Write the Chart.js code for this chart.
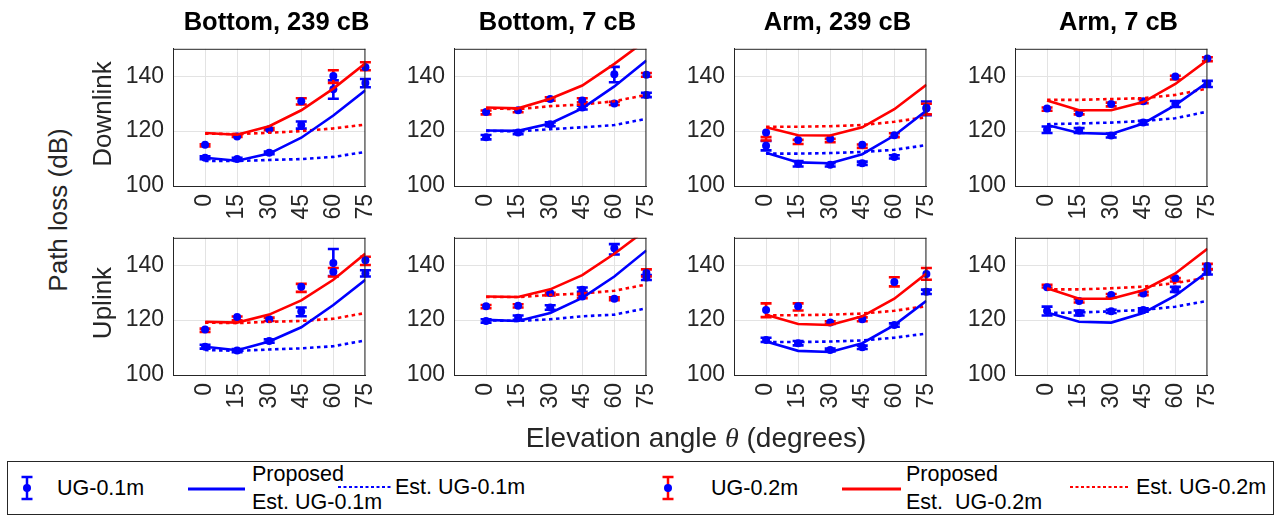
<!DOCTYPE html>
<html><head><meta charset="utf-8">
<script src="https://cdn.jsdelivr.net/npm/chart.js@4.4.0/dist/chart.umd.min.js"></script>
<style>
html,body{margin:0;padding:0;background:#fff;}
body{width:1282px;height:516px;position:relative;overflow:hidden;font-family:"Liberation Sans",Arial,Helvetica,sans-serif;color:#262626;}
canvas{position:absolute;}
.title{position:absolute;font-weight:bold;font-size:25.5px;line-height:26px;color:#000;text-align:center;white-space:nowrap;}
.rot{position:absolute;transform:rotate(-90deg);transform-origin:50% 50%;white-space:nowrap;text-align:center;}
.lg{position:absolute;font-size:21.5px;line-height:22px;white-space:pre;color:#000;}
.th{font-family:"Liberation Serif","DejaVu Serif",serif;font-style:italic;}
#legend{position:absolute;left:7px;top:461px;width:1267px;height:54px;border:1px solid #262626;box-sizing:border-box;}
svg{position:absolute;overflow:visible;}
</style>
</head><body>
<script>
// ---------------- data ----------------
const angles = [0, 15, 30, 45, 60, 75];
const yTickValues = [100, 120, 140];
const panelTitles = ['Bottom, 239 cB', 'Bottom, 7 cB', 'Arm, 239 cB', 'Arm, 7 cB'];
const rowLabels = ['Downlink', 'Uplink'];
const yAxisTitle = 'Path loss (dB)';
const xAxisTitleParts = ['Elevation angle ', '\u03B8', ' (degrees)'];
const seriesNames = ['UG-0.1m', 'Proposed\nEst. UG-0.1m', 'Est. UG-0.1m', 'UG-0.2m', 'Proposed\nEst.  UG-0.2m', 'Est. UG-0.2m'];
// panel order: Downlink (Bottom 239, Bottom 7, Arm 239, Arm 7), then Uplink (same)
const ug01Mean = [
 [110.3, 109.8, 112.1, 122.2, 135.3, 137.5],
 [117.8, 119.5, 122.5, 128.6, 140.7, 133.2],
 [114.7, 108.1, 107.7, 108.3, 110.6, 128.5],
 [120.5, 120.2, 118.4, 123.1, 129.9, 137.2],
 [110.3, 108.9, 112.4, 123.1, 140.8, 137.0],
 [119.7, 120.9, 124.6, 131.1, 146.2, 135.5],
 [112.8, 111.6, 109.1, 110.1, 118.2, 130.3],
 [123.3, 122.6, 123.2, 123.7, 131.2, 137.6]
];
const ug01Lo = [
 [109.8, 109.3, 111.6, 120.9, 131.8, 136.0],
 [117.0, 118.9, 121.8, 127.9, 137.8, 132.4],
 [113.0, 107.1, 107.1, 107.7, 110.0, 125.8],
 [119.3, 119.3, 117.7, 122.4, 128.8, 136.1],
 [109.6, 108.3, 111.8, 121.4, 136.1, 135.9],
 [119.1, 120.1, 123.8, 130.3, 143.9, 134.6],
 [112.0, 110.8, 108.6, 109.5, 117.6, 129.5],
 [121.7, 121.7, 122.6, 123.1, 130.3, 136.6]
];
const ug01Hi = [
 [110.8, 110.3, 112.6, 123.5, 138.5, 139.0],
 [118.6, 120.1, 123.2, 129.3, 143.4, 134.0],
 [116.4, 109.1, 108.3, 108.9, 111.2, 130.8],
 [121.7, 121.1, 119.1, 123.8, 131.0, 138.3],
 [111.0, 109.5, 113.0, 124.6, 145.9, 138.2],
 [120.3, 121.7, 125.4, 131.9, 147.7, 136.4],
 [113.6, 112.4, 109.6, 110.7, 118.8, 131.1],
 [124.9, 123.5, 123.8, 124.3, 132.1, 138.6]
];
const ug02Mean = [
 [115.0, 118.0, 120.7, 130.9, 140.1, 143.3],
 [127.0, 127.6, 131.7, 131.2, 130.1, 140.5],
 [119.5, 116.8, 117.2, 115.0, 118.5, 128.2],
 [128.2, 126.5, 129.9, 130.9, 139.9, 146.5],
 [116.6, 121.1, 120.3, 132.2, 137.6, 141.8],
 [125.1, 125.2, 129.9, 128.6, 127.8, 137.2],
 [123.7, 125.1, 119.1, 120.3, 133.9, 136.8],
 [132.0, 127.0, 129.2, 129.7, 135.3, 139.7]
];
const ug02Lo = [
 [114.4, 117.9, 120.3, 129.7, 137.6, 142.2],
 [126.1, 126.9, 131.1, 130.5, 129.5, 139.8],
 [116.6, 115.3, 116.0, 113.9, 117.8, 126.1],
 [127.4, 126.1, 129.0, 130.2, 138.8, 145.5],
 [115.7, 119.9, 119.7, 130.3, 135.9, 140.1],
 [124.3, 124.6, 129.0, 128.0, 127.3, 135.9],
 [121.1, 123.5, 118.6, 119.6, 132.3, 134.7],
 [131.9, 126.4, 128.3, 129.1, 134.1, 138.5]
];
const ug02Hi = [
 [115.2, 118.9, 121.1, 132.0, 142.2, 145.1],
 [127.5, 128.3, 132.3, 132.0, 130.7, 141.2],
 [117.8, 116.8, 117.2, 115.1, 119.2, 130.0],
 [128.6, 127.5, 130.4, 131.6, 140.2, 146.9],
 [116.9, 121.3, 120.9, 133.2, 139.0, 143.1],
 [125.5, 125.8, 130.0, 129.2, 128.3, 138.5],
 [126.1, 126.1, 119.6, 121.0, 135.6, 139.0],
 [132.9, 127.6, 129.5, 130.3, 135.3, 140.5]
];
const propUg01 = [
 [110.3, 109.2, 111.8, 117.6, 125.7, 134.9],
 [120.2, 120.1, 122.8, 128.3, 136.3, 145.7],
 [112.1, 108.6, 108.3, 111.6, 118.4, 127.5],
 [122.2, 119.3, 119.0, 122.8, 129.5, 137.8],
 [110.3, 109.0, 112.2, 117.4, 125.5, 134.7],
 [120.1, 119.7, 122.6, 128.1, 135.9, 145.4],
 [112.2, 108.8, 108.4, 111.6, 118.2, 127.0],
 [122.8, 119.4, 119.1, 122.6, 128.9, 137.6]
];
const estUg01 = [
 [109.1, 109.1, 109.5, 109.8, 110.6, 112.4],
 [120.1, 119.9, 120.7, 121.4, 122.2, 124.5],
 [111.8, 111.8, 112.0, 112.4, 113.2, 114.9],
 [122.5, 122.8, 123.1, 123.7, 124.7, 127.1],
 [109.1, 108.8, 109.3, 109.7, 110.5, 112.6],
 [119.9, 119.7, 120.3, 121.4, 122.0, 124.3],
 [112.0, 112.0, 112.2, 112.6, 113.6, 115.1],
 [122.6, 122.8, 123.2, 123.7, 124.9, 127.0]
];
const propUg02 = [
 [119.3, 118.7, 121.8, 127.6, 135.5, 144.7],
 [128.6, 128.3, 131.8, 136.6, 144.5, 153.2],
 [121.4, 118.5, 118.4, 121.4, 128.0, 136.9],
 [131.2, 127.6, 127.6, 130.6, 137.2, 145.9],
 [119.4, 119.1, 122.0, 127.2, 134.7, 144.3],
 [128.6, 128.4, 131.2, 136.4, 144.2, 153.0],
 [122.0, 118.6, 118.2, 121.4, 127.8, 137.0],
 [131.6, 127.8, 127.8, 130.9, 137.0, 146.0]
];
const estUg02 = [
 [119.1, 118.9, 119.4, 120.0, 121.0, 122.4],
 [128.3, 128.0, 129.1, 129.7, 130.9, 133.2],
 [121.6, 121.6, 121.8, 122.2, 123.4, 125.1],
 [131.4, 131.4, 131.7, 132.0, 133.2, 135.5],
 [119.1, 118.9, 119.4, 119.7, 120.5, 122.6],
 [128.4, 128.4, 129.2, 129.7, 130.7, 133.0],
 [121.8, 121.8, 122.0, 122.4, 123.4, 125.1],
 [131.2, 131.2, 131.6, 132.2, 133.5, 135.5]
];

// ---------------- layout / style ----------------
const BLUE = '#0000ff', RED = '#ff0000', AXIS = '#262626', GRID = '#e3e3e3';
const FONT = '"Liberation Sans", Arial, Helvetica, sans-serif';
const TICK = 23;
const colLeft = [172.5, 453.5, 733.5, 1014.5];
const rowTop = [41.5, 231];
const PW = 208, PH = 144;
const PADL = 64, PADT = 16, PADR = 20, PADB = 58;

function addDiv(cls, text, css) {
  const d = document.createElement('div');
  d.className = cls; d.textContent = text;
  Object.assign(d.style, css);
  document.body.appendChild(d);
  return d;
}
function addRot(text, cx, cy, size) {
  const w = 300;
  addDiv('rot', text, {left: (cx - w / 2) + 'px', top: (cy - size / 2) + 'px', width: w + 'px',
    height: size + 'px', fontSize: size + 'px', lineHeight: size + 'px'});
}

const errorBars = {
  id: 'errorBars',
  beforeDatasetsDraw(chart, args, opts) {
    const {ctx, scales: {x, y}} = chart;
    ctx.save();
    ctx.lineWidth = 2.6;
    ctx.lineCap = 'butt';
    opts.sets.forEach(s => {
      ctx.strokeStyle = s.color;
      angles.forEach((a, i) => {
        const px = x.getPixelForValue(a);
        const y1 = y.getPixelForValue(s.lo[i]);
        const y2 = y.getPixelForValue(s.hi[i]);
        ctx.beginPath();
        ctx.moveTo(px, y1); ctx.lineTo(px, y2);
        ctx.moveTo(px - 5.5, y1); ctx.lineTo(px + 5.5, y1);
        ctx.moveTo(px - 5.5, y2); ctx.lineTo(px + 5.5, y2);
        ctx.stroke();
      });
    });
    ctx.restore();
  }
};
const boxFrame = {
  id: 'boxFrame',
  afterDraw(chart) {
    const {ctx, chartArea: a} = chart;
    ctx.save();
    ctx.strokeStyle = AXIS; ctx.lineWidth = 1;
    ctx.beginPath();
    ctx.moveTo(a.left, a.top + 0.5); ctx.lineTo(a.right, a.top + 0.5);
    ctx.moveTo(a.right - 0.5, a.top); ctx.lineTo(a.right - 0.5, a.bottom);
    ctx.stroke();
    ctx.restore();
  }
};

function pts(arr) { return angles.map((a, i) => ({x: a, y: arr[i]})); }

for (let p = 0; p < 8; p++) {
  const r = Math.floor(p / 4), c = p % 4;
  const cv = document.createElement('canvas');
  const W = PADL + PW + PADR, H = PADT + PH + PADB;
  cv.width = W; cv.height = H;
  cv.style.left = (colLeft[c] - PADL) + 'px';
  cv.style.top = (rowTop[r] - PADT) + 'px';
  cv.style.width = W + 'px'; cv.style.height = H + 'px';
  document.body.appendChild(cv);

  const lineDs = (data, color, dotted, order) => ({
    type: 'line', data: pts(data), borderColor: color, backgroundColor: color,
    borderWidth: 2.6, pointRadius: 0, tension: 0, fill: false, order,
    borderDash: dotted ? [3.5, 3.5] : [], borderCapStyle: 'butt'
  });
  const dotDs = (data, order) => ({
    type: 'scatter', data: pts(data), borderColor: BLUE, backgroundColor: BLUE,
    pointRadius: 4, pointBorderWidth: 0, showLine: false, clip: false, order
  });

  new Chart(cv, {
    data: {
      datasets: [
        dotDs(ug01Mean[p], 6),
        dotDs(ug02Mean[p], 5),
        lineDs(estUg01[p], BLUE, true, 4),
        lineDs(estUg02[p], RED, true, 3),
        lineDs(propUg01[p], BLUE, false, 2),
        lineDs(propUg02[p], RED, false, 1)
      ]
    },
    options: {
      responsive: false, animation: false, devicePixelRatio: 1,
      layout: {padding: {left: 0, top: PADT, right: PADR, bottom: 0}},
      plugins: {
        legend: {display: false}, tooltip: {enabled: false},
        errorBars: {sets: [
          {lo: ug01Lo[p], hi: ug01Hi[p], color: BLUE},
          {lo: ug02Lo[p], hi: ug02Hi[p], color: RED}
        ]}
      },
      scales: {
        x: {
          type: 'linear', min: -15, max: 75,
          afterBuildTicks: s => { s.ticks = angles.map(v => ({value: v})); },
          afterFit: s => { s.height = PADB; },
          grid: {color: GRID, drawTicks: false, lineWidth: 1},
          border: {color: AXIS, width: 1},
          ticks: {autoSkip: false, minRotation: 90, maxRotation: 90, padding: 8,
            color: AXIS, font: {family: FONT, size: TICK}, callback: v => String(v)}
        },
        y: {
          type: 'linear', min: 100, max: 150,
          afterBuildTicks: s => { s.ticks = yTickValues.map(v => ({value: v})); },
          afterFit: s => { s.width = PADL; },
          grid: {color: GRID, drawTicks: false, lineWidth: 1},
          border: {color: AXIS, width: 1},
          ticks: {padding: 9, color: AXIS, font: {family: FONT, size: TICK}, callback: v => String(v)}
        }
      }
    },
    plugins: [errorBars, boxFrame]
  });
}

// titles
panelTitles.forEach((t, c) => {
  addDiv('title', t, {left: (colLeft[c] - 40) + 'px', top: '8px', width: (PW + 80) + 'px'});
});
// row labels
rowLabels.forEach((t, r) => addRot(t, 102, rowTop[r] + PH / 2, 26));
addRot(yAxisTitle, 58, 210, 26);
const xl = addDiv('lg', '', {left: '296px', top: '424px', width: '800px', textAlign: 'center',
  fontSize: '28px', lineHeight: '28px', color: '#262626'});
xl.innerHTML = xAxisTitleParts[0] + '<span class="th">' + xAxisTitleParts[1] + '</span>' + xAxisTitleParts[2];

// legend
const leg = document.createElement('div'); leg.id = 'legend'; document.body.appendChild(leg);
function svgIcon(html, left, top, w, h) {
  const ns = 'http://www.w3.org/2000/svg';
  const s = document.createElementNS(ns, 'svg');
  s.setAttribute('width', w); s.setAttribute('height', h);
  s.style.left = left + 'px'; s.style.top = top + 'px';
  s.innerHTML = html;
  document.body.appendChild(s);
}
function ebIcon(cx, cy, barColor) {
  svgIcon(`<g stroke="${barColor}" stroke-width="2.5"><line x1="7" y1="1" x2="7" y2="23"/><line x1="1.5" y1="1" x2="12.5" y2="1"/><line x1="1.5" y1="23" x2="12.5" y2="23"/></g><circle cx="7" cy="12" r="4" fill="${BLUE}"/>`, cx - 7, cy - 12, 14, 24);
}
function lineIcon(x1, x2, y, color, dotted) {
  svgIcon(`<line x1="0" y1="3" x2="${x2 - x1}" y2="3" stroke="${color}" stroke-width="${dotted ? 2.2 : 2.8}" ${dotted ? 'stroke-dasharray="3 2.5"' : ''}/>`, x1, y - 3, x2 - x1, 6);
}
function lgText(t, left, cy) { addDiv('lg', t, {left: left + 'px', top: (cy - 11) + 'px'}); }

ebIcon(27, 488, BLUE); lgText(seriesNames[0], 57, 488);
lineIcon(188, 245, 489, BLUE, false);
const p1 = seriesNames[1].split('\n'); lgText(p1[0], 252, 474); lgText(p1[1], 252, 502);
lineIcon(338, 391, 487, BLUE, true); lgText(seriesNames[2], 395, 487);
ebIcon(668, 488, RED); lgText(seriesNames[3], 711, 488);
lineIcon(842, 901, 489, RED, false);
const p2 = seriesNames[4].split('\n'); lgText(p2[0], 906, 474); lgText(p2[1], 906, 502);
lineIcon(1070, 1129, 487, RED, true); lgText(seriesNames[5], 1136, 487);
</script>
</body></html>
